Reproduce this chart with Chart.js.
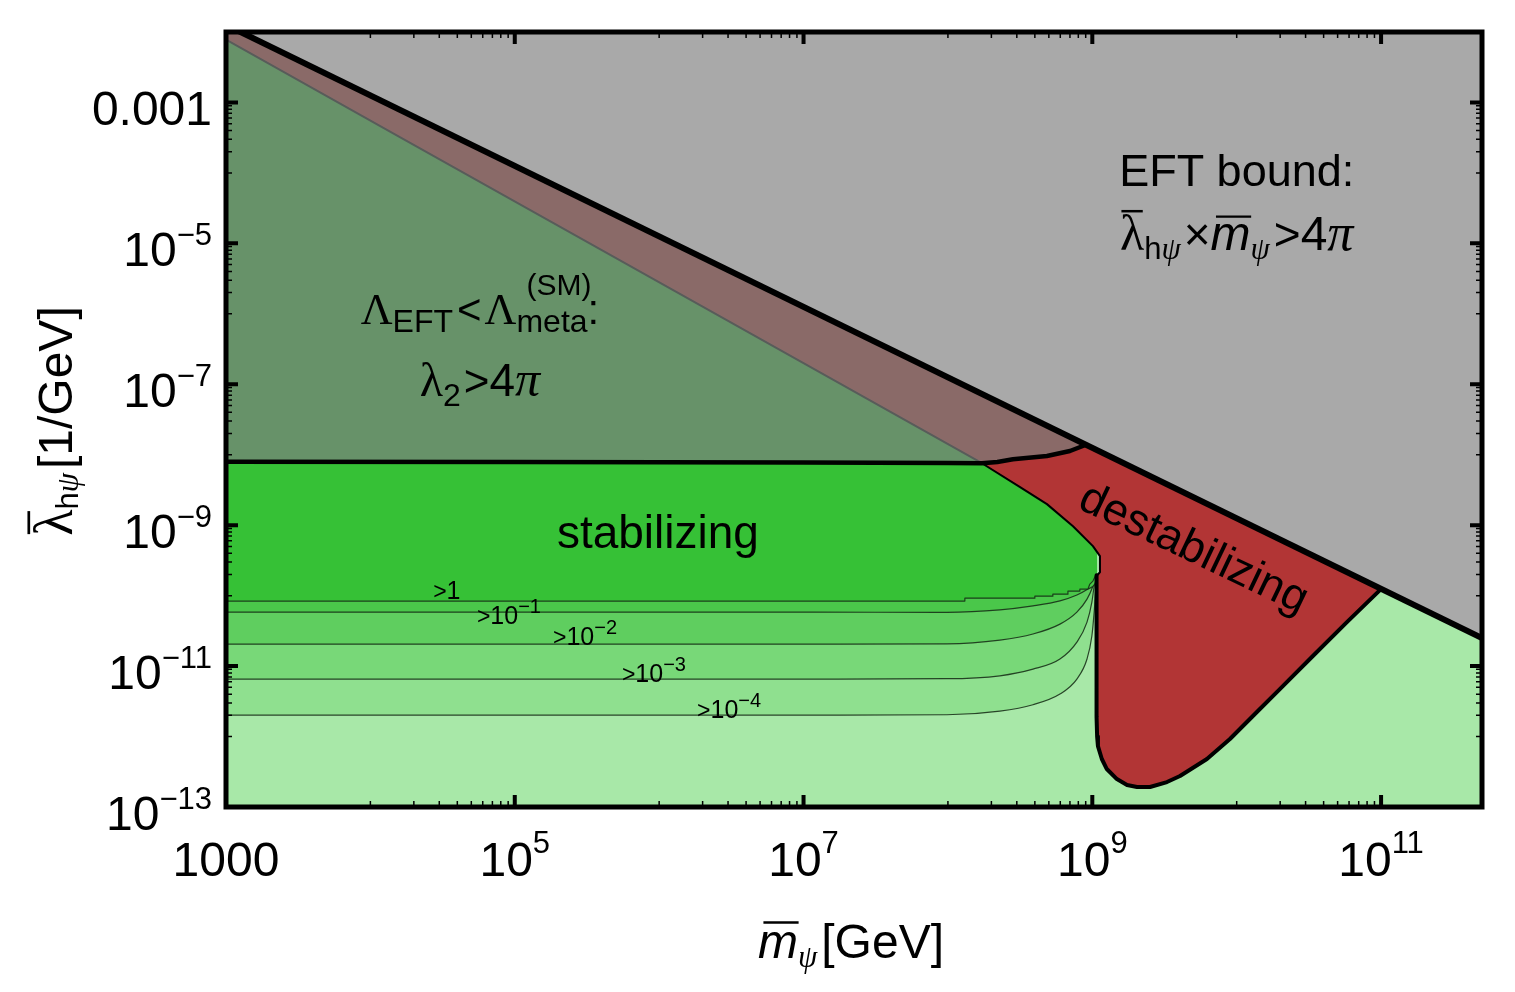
<!DOCTYPE html>
<html>
<head>
<meta charset="utf-8">
<script src="https://cdn.jsdelivr.net/npm/chart.js@4.4.1/dist/chart.umd.min.js"></script>
<style>
html,body{margin:0;padding:0;background:#ffffff;}
#wrap{width:1515px;height:992px;position:relative;}
</style>
</head>
<body>
<div id="wrap"><canvas id="c" width="1515" height="992"></canvas></div>
<script>
// ---------------- axis ranges & ticks ----------------
const X_MIN = 1e3, X_MAX = 5e11;
const Y_MIN = 1e-13, Y_MAX = 1e-2;
const xMajorTicks = [1e3, 1e5, 1e7, 1e9, 1e11];
const xTickBase   = ['1000', '10', '10', '10', '10'];
const xTickExp    = ['', '5', '7', '9', '11'];
const yMajorTicks = [1e-3, 1e-5, 1e-7, 1e-9, 1e-11, 1e-13];
const yTickBase   = ['0.001', '10', '10', '10', '10', '10'];
const yTickExp    = ['', '\u22125', '\u22127', '\u22129', '\u221211', '\u221213'];

// ---------------- region boundaries (m in GeV, lambda in 1/GeV) ----------------
// EFT bound  lambda * m = 4 pi
const eftBoundM = [1e3, 5e11];
const eftBoundL = [1.26e-2, 2.5e-11];

// Lambda_EFT < Lambda_meta boundary (thick black line)
const metaBoundM = [1e3, 1e5, 1e7, 1e8, 1.72e8, 2.2e8, 2.82e8, 4.85e8, 7.0e8, 8.6e8, 9.3e8];
const metaBoundL = [7.95e-9, 7.9e-9, 7.75e-9, 7.6e-9, 7.57e-9, 7.9e-9, 8.6e-9, 9.6e-9, 1.13e-8, 1.33e-8, 1.42e-8];

// destabilizing region: upper / inner (jagged) edge
const destabEdgeM = [1e3, 1.6e4, 3.89e5, 9.44e6, 1.72e8, 3.16e8, 4.85e8, 7.35e8, 1.01e9, 1.13e9, 1.13e9, 1.08e9];
const destabEdgeL = [7.8e-3, 3.23e-4, 8.3e-6, 2.13e-7, 7.57e-9, 3.46e-9, 1.99e-9, 9.68e-10, 5.04e-10, 3.63e-10, 2.15e-10, 1.95e-10];

// destabilizing region: lower edge (thick black line)
const destabLowM = [1.07e9, 1.07e9, 1.08e9, 1.094e9, 1.164e9, 1.26e9, 1.48e9, 1.74e9, 2.04e9, 2.51e9, 3.29e9, 4.05e9, 6.22e9, 8.98e9, 1.38e10, 1.99e10, 3.37e10, 5.8e10, 9.5e10, 1.1e11];
const destabLowL = [1.95e-10, 1.9e-12, 1.0e-12, 7.3e-13, 4.8e-13, 3.46e-13, 2.49e-13, 2.05e-13, 1.92e-13, 1.92e-13, 2.26e-13, 2.75e-13, 4.8e-13, 9.23e-13, 2.23e-12, 4.72e-12, 1.39e-11, 4.21e-11, 1.12e-10, 1.5e-10];

// stabilizing contours (levels >1, >1e-1, >1e-2, >1e-3, >1e-4)
const contourLevels = ['1', '\u22121', '\u22122', '\u22123', '\u22124'];
const c0M = [1e3, 1.31e8, 1.31e8, 4.0e8, 4.0e8, 5.33e8, 5.33e8, 6.78e8, 6.78e8, 8.2e8, 8.2e8, 9.33e8, 9.62e8, 1.01e9, 1.04e9, 1.08e9];
const c0L = [8.36e-11, 8.36e-11, 9.2e-11, 9.2e-11, 9.84e-11, 9.84e-11, 1.05e-10, 1.05e-10, 1.16e-10, 1.16e-10, 1.24e-10, 1.24e-10, 1.46e-10, 1.61e-10, 1.83e-10, 2.02e-10];
const c1M = [1e3, 1e7, 9.84e7, 2.29e8, 3.88e8, 5.97e8, 7.82e8, 9.33e8, 1.04e9, 1.08e9];
const c1L = [5.83e-11, 5.83e-11, 5.8e-11, 6.29e-11, 7.17e-11, 8.43e-11, 1.02e-10, 1.24e-10, 1.46e-10, 1.83e-10];
const c2M = [1e3, 1e7, 9.84e7, 2.29e8, 3.88e8, 5.97e8, 7.82e8, 9.19e8, 1.01e9, 1.06e9];
const c2L = [2.05e-11, 2.05e-11, 2.07e-11, 2.34e-11, 2.85e-11, 3.94e-11, 5.83e-11, 8.91e-11, 1.36e-10, 1.83e-10];
const c3M = [1e3, 1e7, 9.84e7, 2.29e8, 3.88e8, 5.97e8, 7.82e8, 9.19e8, 9.93e8, 1.03e9, 1.06e9];
const c3L = [6.55e-12, 6.55e-12, 6.62e-12, 7.28e-12, 9.05e-12, 1.26e-11, 2.19e-11, 4.21e-11, 8.09e-11, 1.36e-10, 1.83e-10];
const c4M = [1e3, 1e7, 9.84e7, 2.29e8, 3.88e8, 5.97e8, 7.82e8, 9.19e8, 9.93e8, 1.03e9, 1.06e9, 1.07e9];
const c4L = [2.02e-12, 2.02e-12, 2.04e-12, 2.30e-12, 2.83e-12, 4.01e-12, 6.55e-12, 1.26e-11, 2.67e-11, 5.83e-11, 1.36e-10, 1.83e-10];

// ---------------- styles ----------------
const SANS = '"Liberation Sans", Arial, Helvetica, sans-serif';
const SERIF = '"Liberation Serif", "Times New Roman", serif';
const F = (size, fam, style) => (style ? style + ' ' : '') + size + 'px ' + fam;
const COL = {
  bg: '#a8e8a8', c4: '#8fe08f', c3: '#78d878', c2: '#5fce5f', c1: '#4ac74a', c0: '#36c136',
  red: '#b23535', gray: '#a9a9a9', overlay: 'rgba(122,128,125,0.72)', contour: 'rgba(20,40,20,0.85)'
};

const pts = (ms, ls) => ms.map((m, i) => ({x: m, y: ls[i]}));

// ---------------- text annotations (positions in data coordinates) ----------------
const annotations = [
  {m: 9.8e5, l: 4.72e-10, parts: [{t: 'stabilizing', font: F(46, SANS)}]},
  {m: 5.06e9, l: 4.72e-10, rot: 25.5, parts: [{t: 'destabilizing', font: F(45, SANS)}]},
  {m: 1.0e10, l: 6.44e-5, parts: [{t: 'EFT bound:', font: F(45, SANS)}]},
  {m: 1.0e10, l: 8.0e-6, parts: [
    {t: '\u03bb', font: F(50, SERIF), bar: 0.78},
    {t: 'h', font: F(31, SANS), dy: 9},
    {t: '\u03c8', font: F(31, SERIF, 'italic'), dy: 9, gap: 3},
    {t: '\u00d7', font: F(46, SANS)},
    {t: 'm', font: F(48, SANS, 'italic'), bar: 0.70, skew: 3},
    {t: '\u03c8', font: F(31, SERIF, 'italic'), dy: 9, gap: 4},
    {t: '>', font: F(46, SANS)},
    {t: '4', font: F(48, SANS)},
    {t: '\u03c0', font: F(52, SERIF, 'italic')}
  ]},
  {m: 5.74e4, l: 7.1e-7, parts: [
    {t: '\u039b', font: F(44, SERIF)},
    {t: 'EFT', font: F(32, SANS), dy: 8, gap: 4},
    {t: '<', font: F(42, SANS), gap: 3},
    {t: '\u039b', font: F(44, SERIF)},
    {t: '(SM)', font: F(30, SANS), dy: -29, dx: 10, adv: 0},
    {t: 'meta', font: F(32, SANS), dy: 8},
    {t: ':', font: F(42, SANS)}
  ]},
  {m: 5.74e4, l: 6.76e-8, parts: [
    {t: '\u03bb', font: F(48, SERIF)},
    {t: '2', font: F(32, SANS), dy: 10, gap: 3},
    {t: '>', font: F(44, SANS)},
    {t: '4', font: F(46, SANS)},
    {t: '\u03c0', font: F(50, SERIF, 'italic')}
  ]}
];
const contourLabelPos = [
  {m: 2.72e4, l: 8.9e-11},
  {m: 5.47e4, l: 3.94e-11},
  {m: 1.84e5, l: 1.99e-11},
  {m: 5.52e5, l: 5.93e-12},
  {m: 1.83e6, l: 1.83e-12}
];

// ---------------- rich text helper ----------------
function fontSize(font) { return parseFloat(font.match(/(\d+(?:\.\d+)?)px/)[1]); }
function drawRich(ctx, x, y, parts, align) {
  ctx.textAlign = 'left';
  ctx.textBaseline = 'alphabetic';
  const ws = parts.map(p => { ctx.font = p.font; return p.adv === 0 ? 0 : ctx.measureText(p.t).width + (p.gap || 0); });
  const total = ws.reduce((a, b) => a + b, 0);
  let cx = align === 'right' ? x - total : (align === 'left' ? x : x - total / 2);
  parts.forEach((p, i) => {
    ctx.font = p.font;
    const tx = cx + (p.dx || 0);
    const ty = y + (p.dy || 0);
    ctx.fillText(p.t, tx, ty);
    if (p.bar) {
      const s = fontSize(p.font);
      const w = ctx.measureText(p.t).width;
      const sk = p.skew || 0;
      ctx.save();
      ctx.strokeStyle = ctx.fillStyle;
      ctx.lineWidth = Math.max(2, s * 0.05);
      ctx.beginPath();
      ctx.moveTo(tx + w * 0.06 + sk, ty - s * p.bar);
      ctx.lineTo(tx + w * 0.94 + sk, ty - s * p.bar);
      ctx.stroke();
      ctx.restore();
    }
    cx += ws[i];
  });
  return total;
}

// ---------------- plugins ----------------
const backgroundPlugin = {
  id: 'bgfill',
  beforeDatasetsDraw(chart) {
    const {ctx, chartArea: a} = chart;
    ctx.save();
    ctx.fillStyle = COL.bg;
    ctx.fillRect(a.left, a.top, a.right - a.left, a.bottom - a.top);
    ctx.restore();
  }
};

const decorPlugin = {
  id: 'decor',
  afterDraw(chart) {
    const {ctx, chartArea: a} = chart;
    const xs = chart.scales.x, ys = chart.scales.y;
    ctx.save();
    ctx.fillStyle = '#000';
    ctx.strokeStyle = '#000';

    // annotations
    annotations.forEach(an => {
      const px = xs.getPixelForValue(an.m), py = ys.getPixelForValue(an.l);
      if (an.rot) {
        ctx.save();
        ctx.translate(px, py);
        ctx.rotate(an.rot * Math.PI / 180);
        drawRich(ctx, 0, 14, an.parts, 'center');
        ctx.restore();
      } else {
        drawRich(ctx, px, py, an.parts, 'center');
      }
    });
    contourLabelPos.forEach((p, i) => {
      const px = xs.getPixelForValue(p.m), py = ys.getPixelForValue(p.l);
      const parts = i === 0
        ? [{t: '>', font: F(23, SANS)}, {t: '1', font: F(25, SANS)}]
        : [{t: '>', font: F(23, SANS)}, {t: '10', font: F(25, SANS)}, {t: contourLevels[i], font: F(20, SANS), dy: -11}];
      drawRich(ctx, px, py, parts, 'left');
    });

    // frame
    ctx.lineWidth = 5;
    ctx.strokeRect(a.left, a.top, a.right - a.left, a.bottom - a.top);

    // ticks (inside, all four sides)
    const drawX = (v, len, lw) => {
      const px = xs.getPixelForValue(v);
      if (px < a.left - 0.5 || px > a.right + 0.5) return;
      ctx.lineWidth = lw;
      ctx.beginPath();
      ctx.moveTo(px, a.bottom); ctx.lineTo(px, a.bottom - len);
      ctx.moveTo(px, a.top); ctx.lineTo(px, a.top + len);
      ctx.stroke();
    };
    const drawY = (v, len, lw) => {
      const py = ys.getPixelForValue(v);
      if (py < a.top - 0.5 || py > a.bottom + 0.5) return;
      ctx.lineWidth = lw;
      ctx.beginPath();
      ctx.moveTo(a.left, py); ctx.lineTo(a.left + len, py);
      ctx.moveTo(a.right, py); ctx.lineTo(a.right - len, py);
      ctx.stroke();
    };
    xMajorTicks.forEach(v => {
      drawX(v, 12, 4);
      for (let k = 1; k <= 9; k++) drawX(v / 10 * k, 6, 1.5);
    });
    yMajorTicks.forEach(v => {
      drawY(v, 12, 4);
      for (let k = 1; k <= 9; k++) drawY(v / 10 * k, 6, 1.5);
    });

    // tick labels
    xMajorTicks.forEach((v, i) => {
      const px = xs.getPixelForValue(v);
      const parts = [{t: xTickBase[i], font: F(48, SANS)}];
      if (xTickExp[i]) parts.push({t: xTickExp[i], font: F(31, SANS), dy: -23});
      drawRich(ctx, px, a.bottom + 69, parts, 'center');
    });
    yMajorTicks.forEach((v, i) => {
      const py = ys.getPixelForValue(v);
      const parts = [{t: yTickBase[i], font: F(48, SANS)}];
      if (yTickExp[i]) parts.push({t: yTickExp[i], font: F(31, SANS), dy: -21});
      drawRich(ctx, a.left - 14, py + 23, parts, 'right');
    });

    // axis titles
    drawRich(ctx, (a.left + a.right) / 2 - 3, 958, [
      {t: 'm', font: F(48, SANS, 'italic'), bar: 0.74, skew: 3},
      {t: '\u03c8', font: F(31, SERIF, 'italic'), dy: 9, gap: 4},
      {t: '[GeV]', font: F(48, SANS)}
    ], 'center');
    ctx.save();
    ctx.translate(72, 421);
    ctx.rotate(-Math.PI / 2);
    drawRich(ctx, 0, 0, [
      {t: '\u03bb', font: F(54, SERIF), bar: 0.80},
      {t: 'h', font: F(31, SANS), dy: 6},
      {t: '\u03c8', font: F(31, SERIF, 'italic'), dy: 6, gap: 4},
      {t: '[1/GeV]', font: F(48, SANS)}
    ], 'center');
    ctx.restore();

    ctx.restore();
  }
};

// ---------------- datasets ----------------
const layers = [
  {label: '>1e-4', data: pts(c4M, c4L), fill: 'end', backgroundColor: COL.c4, borderColor: COL.contour, borderWidth: 1.2, cubicInterpolationMode: 'monotone'},
  {label: '>1e-3', data: pts(c3M, c3L), fill: 'end', backgroundColor: COL.c3, borderColor: COL.contour, borderWidth: 1.2, cubicInterpolationMode: 'monotone'},
  {label: '>1e-2', data: pts(c2M, c2L), fill: 'end', backgroundColor: COL.c2, borderColor: COL.contour, borderWidth: 1.2, cubicInterpolationMode: 'monotone'},
  {label: '>1e-1', data: pts(c1M, c1L), fill: 'end', backgroundColor: COL.c1, borderColor: COL.contour, borderWidth: 1.2, cubicInterpolationMode: 'monotone'},
  {label: '>1', data: pts(c0M, c0L), fill: 'end', backgroundColor: COL.c0, borderColor: COL.contour, borderWidth: 1.2},
  {label: 'destabilizing', data: pts(destabEdgeM, destabEdgeL).concat(pts(destabLowM, destabLowL), [{x: X_MAX, y: Y_MAX}, {x: X_MIN, y: Y_MAX}]),
    fill: 'shape', backgroundColor: COL.red, borderColor: '#000', borderWidth: 2},
  {label: 'destab edge', data: pts(destabLowM, destabLowL), fill: false, borderColor: '#000', borderWidth: 4},
  {label: 'meta overlay', data: pts(metaBoundM, metaBoundL).concat([{x: 9.3e8, y: Y_MAX}, {x: X_MIN, y: Y_MAX}]),
    fill: 'shape', backgroundColor: COL.overlay, borderWidth: 0, borderColor: 'rgba(0,0,0,0)'},
  {label: 'meta bound', data: pts(metaBoundM, metaBoundL), fill: false, borderColor: '#000', borderWidth: 4.5},
  {label: 'EFT bound', data: pts(eftBoundM, eftBoundL), fill: 'end', backgroundColor: COL.gray, borderColor: '#000', borderWidth: 6}
];
layers.forEach((d, i) => {
  d.order = layers.length - i;
  d.pointRadius = 0;
  d.pointHoverRadius = 0;
  d.tension = 0;
  d.borderJoinStyle = 'round';
});

new Chart(document.getElementById('c'), {
  type: 'line',
  data: {datasets: layers},
  options: {
    responsive: false,
    animation: false,
    events: [],
    layout: {padding: {left: 226, right: 33, top: 32, bottom: 185}},
    plugins: {legend: {display: false}, tooltip: {enabled: false}, title: {display: false}},
    scales: {
      x: {type: 'logarithmic', min: X_MIN, max: X_MAX, display: false},
      y: {type: 'logarithmic', min: Y_MIN, max: Y_MAX, display: false}
    }
  },
  plugins: [backgroundPlugin, decorPlugin]
});
</script>
</body>
</html>
